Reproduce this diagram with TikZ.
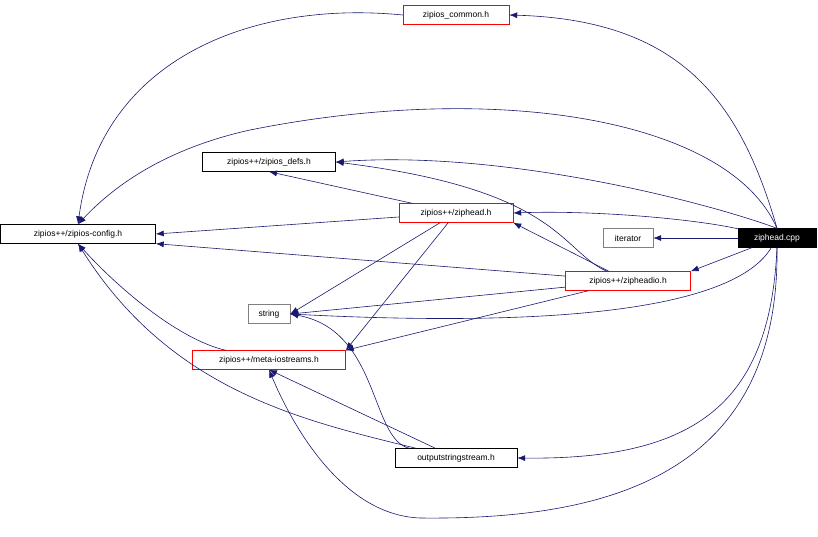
\documentclass[tikz,border=0pt]{standalone}
\usepackage{fontspec}
\setmainfont{Liberation Sans}
\usetikzlibrary{arrows.meta}
\definecolor{edgeblue}{RGB}{25,25,112}
\begin{document}
\begin{tikzpicture}[x=1pt,y=-1pt,
    file/.style={draw,rectangle,minimum height=19pt,inner xsep=2pt,font=\fontsize{8.5}{10}\selectfont},
    redfile/.style={file,draw=red},
    grayfile/.style={file,draw=gray},
    dep/.style={-{Latex[length=8pt,width=6pt]},color=edgeblue,line width=0.6pt}]
    \useasboundingbox (0,0) rectangle (818,537);
    \node[file,fill=black,text=white,minimum width=78pt] (cpp) at (777,238) {ziphead.cpp};
    \node[redfile,minimum width=106pt] (common) at (456,15) {zipios\_common.h};
    \node[file,minimum width=133pt] (defs) at (269,162) {zipios++/zipios\_defs.h};
    \node[file,minimum width=155pt] (config) at (78,234) {zipios++/zipios-config.h};
    \node[redfile,minimum width=114pt] (zhead) at (456,213) {zipios++/ziphead.h};
    \node[grayfile,minimum width=50pt] (iter) at (628,238) {iterator};
    \node[redfile,minimum width=125pt] (zio) at (628,281) {zipios++/zipheadio.h};
    \node[grayfile,minimum width=42pt] (str) at (269,314) {string};
    \node[redfile,minimum width=153pt] (meta) at (269,360) {zipios++/meta-iostreams.h};
    \node[file,minimum width=122pt] (oss) at (456,458) {outputstringstream.h};

    % from ziphead.cpp
    \draw[dep] (cpp.north) .. controls (740,100) and (680,20) .. (common.east);
    \draw[dep] (cpp.north) .. controls (730,120) and (500,80) .. (250,130) .. controls (160,150) and (110,190) .. (config.north);
    \draw[dep] (cpp.north) .. controls (700,200) and (500,150) .. (defs.east);
    \draw[dep] (cpp) .. controls (700,220) and (600,210) .. (zhead.east);
    \draw[dep] (cpp) -- (iter);
    \draw[dep] (cpp) -- (zio.north east);
    \draw[dep] (cpp) .. controls (740,300) and (600,330) .. (str.east);
    \draw[dep] (cpp.south) .. controls (770,400) and (700,460) .. (oss.east);
    \draw[dep] (cpp.south) .. controls (780,480) and (600,520) .. (420,518) .. controls (340,515) and (290,420) .. (meta.south);
    % others
    \draw[dep] (common.west) .. controls (250,0) and (100,60) .. (config.north);
    \draw[dep] (zhead) -- (defs.south);
    \draw[dep] (zhead) -- (config.east);
    \draw[dep] (zhead) -- (str.east);
    \draw[dep] (zhead) -- (meta.north east);
    \draw[dep] (zio) .. controls (560,250) and (560,190) .. (defs.east);
    \draw[dep] (zio) -- (zhead.south east);
    \draw[dep] (zio) -- (config.south east);
    \draw[dep] (zio) -- (str.east);
    \draw[dep] (zio) -- (meta.north east);
    \draw[dep] (meta) .. controls (180,340) and (120,290) .. (config.south);
    \draw[dep] (oss) .. controls (300,420) and (170,390) .. (config.south);
    \draw[dep] (oss) -- (meta.south);
    \draw[dep] (oss) .. controls (370,440) and (380,330) .. (str.east);
\end{tikzpicture}
\end{document}
